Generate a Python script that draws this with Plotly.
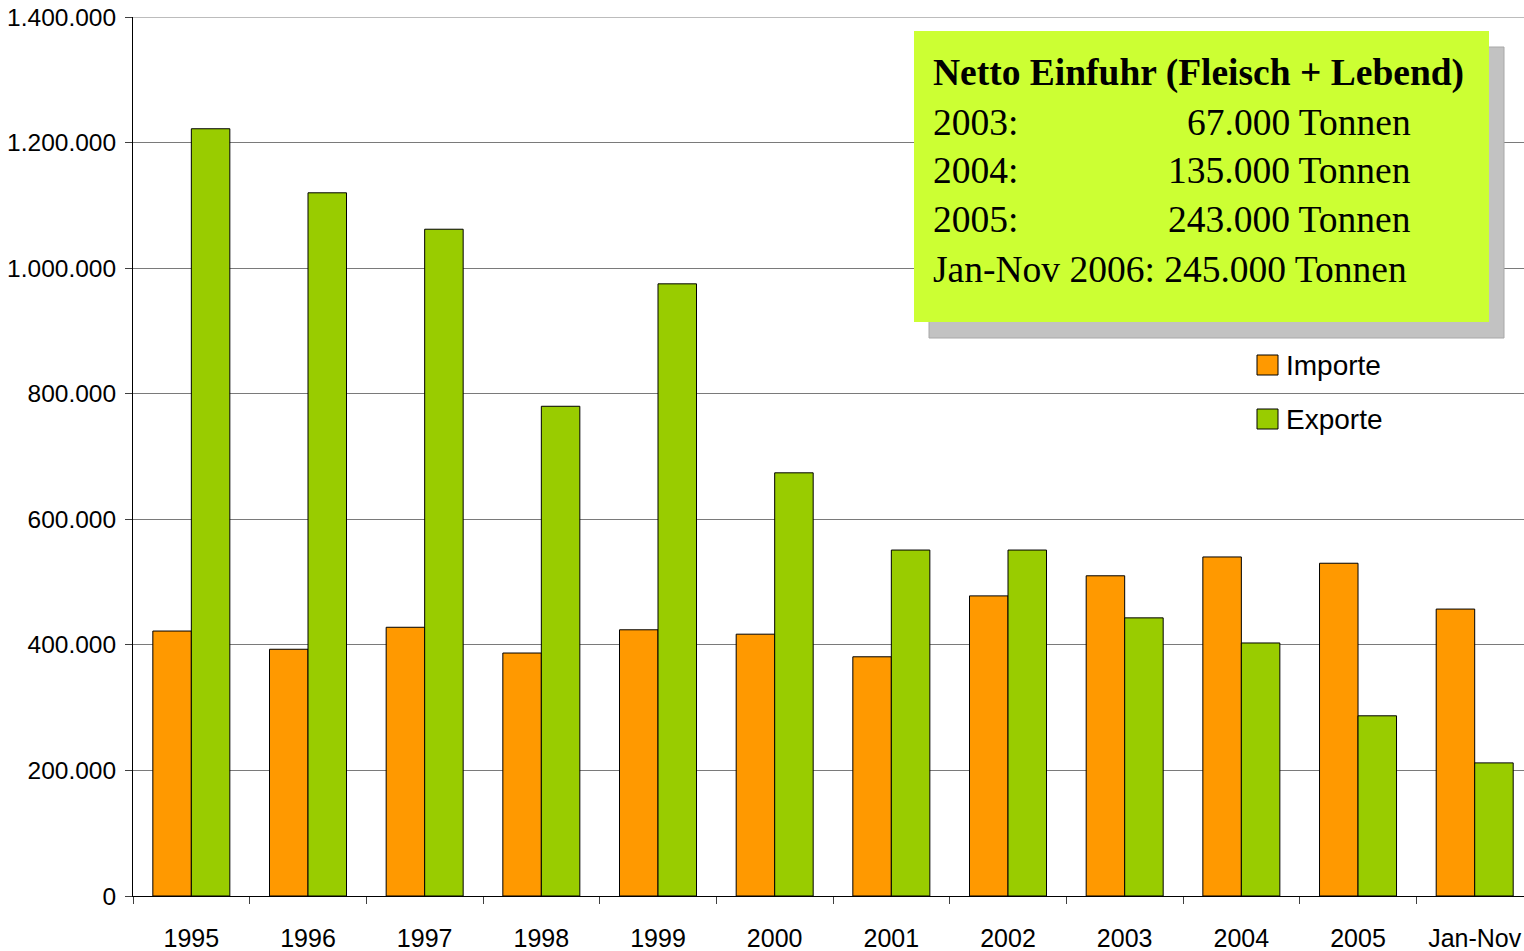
import plotly.graph_objects as go

categories = ["1995", "1996", "1997", "1998", "1999", "2000", "2001", "2002",
              "2003", "2004", "2005", "Jan-Nov"]
importe = [422000, 393000, 428000, 387000, 424000, 417000, 381000, 478000,
           510000, 540000, 530000, 457000]
exporte = [1222000, 1120000, 1062000, 780000, 975000, 674000, 551000, 551000,
           443000, 403000, 287000, 212000]
series_names = ["Importe", "Exporte"]
series_colors = ["#FF9900", "#99CC00"]
y_max = 1400000

box_title = "Netto Einfuhr (Fleisch + Lebend)"
box_years = ["2003:", "2004:", "2005:"]
box_values = ["67.000 Tonnen", "135.000 Tonnen", "243.000 Tonnen"]
box_last = "Jan-Nov 2006: 245.000 Tonnen"

W, H = 1524, 951
L, T, B, R = 133, 17, 55, 0
pw, ph = W - L - R, H - T - B


def px(x):
    return (x - L) / pw


def py(y):
    return (H - B - y) / ph


fig = go.Figure()
for name, vals, col in zip(series_names, [importe, exporte], series_colors):
    fig.add_trace(go.Bar(x=categories, y=vals, name=name, showlegend=False,
                         hoverinfo="skip",
                         marker=dict(color=col, line=dict(color="#000000", width=1))))

# top border line of the plot area
fig.add_shape(type="line", xref="paper", yref="y", x0=0, x1=1, y0=y_max, y1=y_max,
              line=dict(color="#7A7A7A", width=1))

# shadow and text box
fig.add_shape(type="rect", xref="paper", yref="paper",
              x0=px(929), x1=px(1504), y0=py(338), y1=py(47),
              fillcolor="#C2C2C2", line=dict(color="#A8A8A8", width=1), layer="above")
fig.add_shape(type="rect", xref="paper", yref="paper",
              x0=px(914), x1=px(1489), y0=py(322), y1=py(31),
              fillcolor="#CCFF33", line=dict(width=0), layer="above")

serif = "Liberation Serif, Times New Roman, serif"
fs = 37.5
fig.add_annotation(xref="paper", yref="paper", x=px(931), y=py(73),
                   xanchor="left", yanchor="middle", showarrow=False,
                   text="<b>" + box_title + "</b>",
                   font=dict(family=serif, size=fs, color="#000000"))
row_y = [122, 171, 220]
for yr, val, yy in zip(box_years, box_values, row_y):
    fig.add_annotation(xref="paper", yref="paper", x=px(931), y=py(yy),
                       xanchor="left", yanchor="middle", showarrow=False,
                       text=yr, font=dict(family=serif, size=fs, color="#000000"))
    fig.add_annotation(xref="paper", yref="paper", x=px(1413), y=py(yy),
                       xanchor="right", yanchor="middle", showarrow=False,
                       text=val, font=dict(family=serif, size=fs, color="#000000"))
fig.add_annotation(xref="paper", yref="paper", x=px(931), y=py(269),
                   xanchor="left", yanchor="middle", showarrow=False,
                   text=box_last, font=dict(family=serif, size=fs, color="#000000"))

# legend (drawn manually for large swatches)
leg_y = [365, 419]
for name, col, yy in zip(series_names, series_colors, leg_y):
    fig.add_shape(type="rect", xref="paper", yref="paper",
                  x0=px(1257), x1=px(1278), y0=py(yy + 10), y1=py(yy - 10),
                  fillcolor=col, line=dict(color="#000000", width=1), layer="above")
    fig.add_annotation(xref="paper", yref="paper", x=px(1284), y=py(yy),
                       xanchor="left", yanchor="middle", showarrow=False,
                       text=name, font=dict(size=28, color="#000000"))

fig.update_layout(
    width=W, height=H,
    margin=dict(l=L, r=R, t=T, b=B, autoexpand=False),
    paper_bgcolor="white", plot_bgcolor="white",
    barmode="group", bargap=0.34, bargroupgap=0,
    separators=",.",
    font=dict(family="Liberation Sans, Arial, sans-serif", size=24, color="#000000"),
    showlegend=False,
    hovermode=False,
)
fig.update_xaxes(type="category", range=[-0.5, 11.5 - 9 / 116.4],
                 showline=True, linecolor="#000000", linewidth=1,
                 ticks="outside", tickson="boundaries", ticklen=7,
                 tickcolor="#404040", tickfont=dict(size=25),
                 ticklabelstandoff=20, showgrid=False)
fig.update_yaxes(range=[0, y_max], dtick=200000, tickformat=",d",
                 showline=True, linecolor="#000000", linewidth=1,
                 ticks="outside", ticklen=7, tickcolor="#404040",
                 ticklabelstandoff=4,
                 showgrid=True, gridcolor="#7A7A7A", gridwidth=1,
                 tickfont=dict(size=24.5), zeroline=False)

fig.write_html("out.html",
               config={"displayModeBar": False},
               post_script="document.body.style.margin='0';document.body.style.overflow='hidden';")
